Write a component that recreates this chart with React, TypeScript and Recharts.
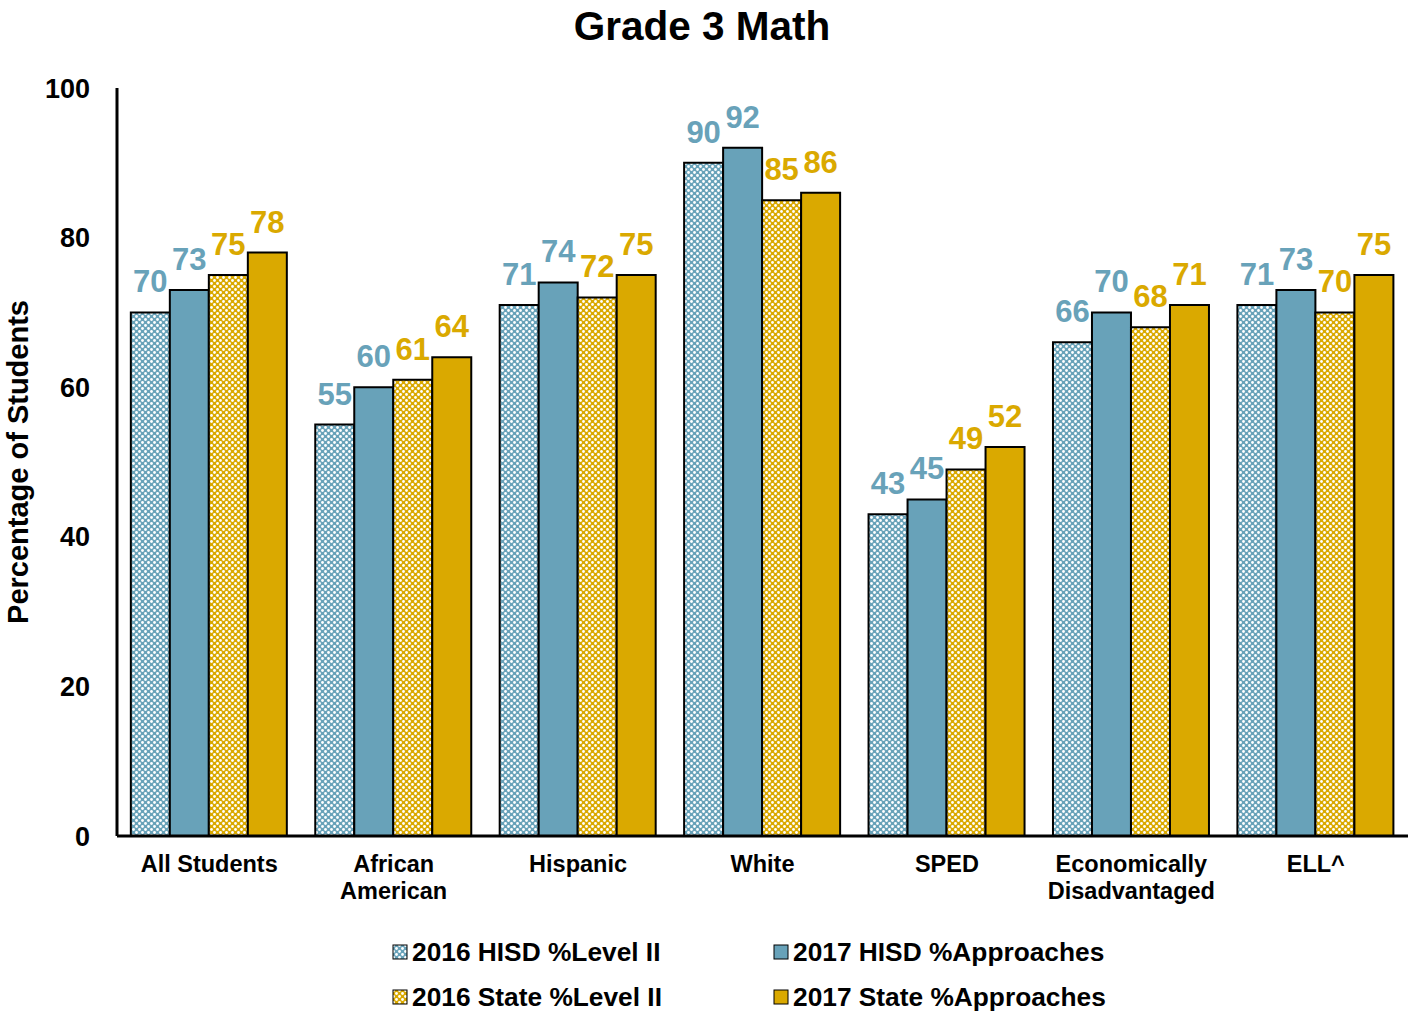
import { BarChart, Bar, XAxis, YAxis, LabelList, Label } from 'recharts'

const categories = ['All Students', 'African American', 'Hispanic', 'White', 'SPED', 'Economically Disadvantaged', 'ELL^']
const hisd2016 = [70, 55, 71, 90, 43, 66, 71]
const hisd2017 = [73, 60, 74, 92, 45, 70, 73]
const state2016 = [75, 61, 72, 85, 49, 68, 70]
const state2017 = [78, 64, 75, 86, 52, 71, 75]
const yTicks = [0, 20, 40, 60, 80, 100]

const tickLines: Record<string, string[]> = {
  'African American': ['African', 'American'],
  'Economically Disadvantaged': ['Economically', 'Disadvantaged'],
}

const BLUE = '#68A2B9'
const GOLD = '#DAA900'
const FONT = '"Liberation Sans", Arial, sans-serif'

const data = categories.map((name, i) => ({
  name,
  hisd2016: hisd2016[i],
  hisd2017: hisd2017[i],
  state2016: state2016[i],
  state2017: state2017[i],
}))

const series = [
  { key: 'hisd2016', label: '2016 HISD %Level II', fill: 'url(#dotsBlue)', text: BLUE },
  { key: 'hisd2017', label: '2017 HISD %Approaches', fill: BLUE, text: BLUE },
  { key: 'state2016', label: '2016 State %Level II', fill: 'url(#dotsGold)', text: GOLD },
  { key: 'state2017', label: '2017 State %Approaches', fill: GOLD, text: GOLD },
]

const Patterns = ({ prefix = '' }: { prefix?: string }) => (
  <defs>
    <pattern id={`${prefix}dotsBlue`} width="6" height="6" patternUnits="userSpaceOnUse">
      <rect width="6" height="6" fill={BLUE} />
      <circle cx="1.5" cy="1.5" r="1.4" fill="#fff" />
      <circle cx="4.5" cy="4.5" r="1.4" fill="#fff" />
    </pattern>
    <pattern id={`${prefix}dotsGold`} width="6" height="6" patternUnits="userSpaceOnUse">
      <rect width="6" height="6" fill={GOLD} />
      <circle cx="1.5" cy="1.5" r="1.4" fill="#fff" />
      <circle cx="4.5" cy="4.5" r="1.4" fill="#fff" />
    </pattern>
  </defs>
)

const CategoryTick = (props: any) => {
  const { x, y, payload } = props
  const lines = tickLines[payload.value] ?? [payload.value]
  return (
    <text x={x} y={y} textAnchor="middle" fontSize={23.5} fontWeight="bold" fontFamily={FONT} fill="#000">
      {lines.map((l, i) => (
        <tspan key={i} x={x} dy={i === 0 ? 34 : 27}>
          {l}
        </tspan>
      ))}
    </text>
  )
}

const YTitle = () => (
  <text
    x={18}
    y={462}
    transform="rotate(-90 18 462)"
    textAnchor="middle"
    dominantBaseline="central"
    fontSize={29}
    fontWeight="bold"
    fontFamily={FONT}
    fill="#000"
  >
    Percentage of Students
  </text>
)

const legendPos = [
  { left: 392, top: 937 },
  { left: 773, top: 937 },
  { left: 392, top: 982 },
  { left: 773, top: 982 },
]

export default function App() {
  return (
    <div style={{ position: 'absolute', left: 0, top: 0, width: 1410, height: 1013, fontFamily: FONT, background: '#fff' }}>
      <div
        style={{
          position: 'absolute',
          top: 3,
          left: 0,
          width: 1404,
          textAlign: 'center',
          fontSize: 40.5,
          fontWeight: 'bold',
        }}
      >
        Grade 3 Math
      </div>
      <BarChart
        width={1410}
        height={1013}
        data={data}
        margin={{ top: 88, right: 2, left: 0, bottom: 97 }}
        barCategoryGap="7.5%"
        barGap={0}
      >
        <Patterns />
        <XAxis
          dataKey="name"
          height={80}
          tickLine={false}
          tickSize={0}
          axisLine={{ stroke: '#000', strokeWidth: 3 }}
          tick={<CategoryTick />}
          interval={0}
        />
        <YAxis
          width={117}
          domain={[0, 100]}
          ticks={yTicks}
          tickLine={false}
          tickSize={0}
          tickMargin={27}
          axisLine={{ stroke: '#000', strokeWidth: 3 }}
          tick={{ fontSize: 27, fontWeight: 'bold', fill: '#000', fontFamily: FONT }}
        >
          <Label content={<YTitle />} />
        </YAxis>
        {series.map((s) => (
          <Bar key={s.key} dataKey={s.key} fill={s.fill} stroke="#000" strokeWidth={2} isAnimationActive={false}>
            <LabelList
              dataKey={s.key}
              position="top"
              offset={20}
              fill={s.text}
              fontSize={31}
              fontWeight="bold"
              fontFamily={FONT}
            />
          </Bar>
        ))}
      </BarChart>
      {series.map((s, i) => (
        <div
          key={s.key}
          style={{
            position: 'absolute',
            left: legendPos[i].left,
            top: legendPos[i].top,
            display: 'flex',
            alignItems: 'center',
            fontSize: 26.3,
            fontWeight: 'bold',
            whiteSpace: 'nowrap',
          }}
        >
          <svg width={17} height={17} style={{ marginRight: 3 }}>
            <Patterns prefix="lg" />
            <rect
              x={1}
              y={1}
              width={14}
              height={14}
              fill={s.fill.startsWith('url') ? s.fill.replace('#', '#lg') : s.fill}
              stroke="#000"
              strokeWidth={1}
            />
          </svg>
          {s.label}
        </div>
      ))}
    </div>
  )
}
